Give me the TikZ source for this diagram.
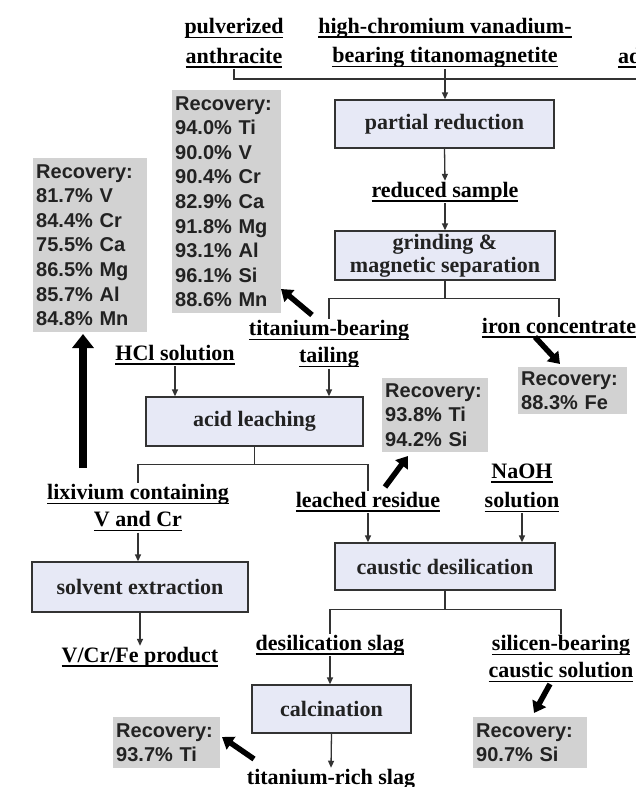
\documentclass[tikz,border=0pt]{standalone}
\usepackage{fontspec}
\setmainfont{Liberation Serif}
\newfontfamily\recfont{Liberation Sans}
\usetikzlibrary{arrows.meta,calc}
\definecolor{procfill}{HTML}{E7E9F6}
\definecolor{recfill}{HTML}{D2D2D2}
\definecolor{ink}{HTML}{222222}
\definecolor{edge}{HTML}{333333}
\newcommand\ulx[1]{\setbox0=\hbox{#1}\rlap{\rule[-4.5pt]{\wd0}{1.5pt}}\box0}
\begin{document}
\begin{tikzpicture}[x=1pt,y=-1pt,
  lbl/.style={font=\fontsize{22}{27}\selectfont\bfseries, align=center, inner sep=1pt, text=black},
  lblw/.style={lbl, font=\fontsize{22}{29.5}\selectfont\bfseries},
  proc/.style={draw=edge, fill=procfill, line width=1.3pt, font=\fontsize{22}{23}\selectfont\bfseries, text=ink, align=center, inner sep=0pt},
  rec/.style={fill=recfill, font=\recfont\fontsize{20}{24.6}\selectfont\bfseries, text=ink, align=left, inner xsep=3pt, inner ysep=0pt, anchor=north west},
  ln/.style={draw=edge, line width=1.3pt},
  arr/.style={ln, -{Triangle[length=7pt,width=6pt]}},
  fat/.style={draw=black, line width=5.5pt, -{Triangle[length=11pt,width=15pt]}},
  fatv/.style={draw=black, line width=8pt, -{Triangle[length=14pt,width=21pt]}}
]
\useasboundingbox (0,0) rectangle (636,787);
\clip (0,0) rectangle (636,787);
\fill[white] (0,0) rectangle (636,787);

% labels
\node[lblw] (anth) at (234,43) {\ulx{pulverized}\\\ulx{anthracite}};
\node[lblw] (mag) at (445,43) {\ulx{high-chromium vanadium-}\\\ulx{bearing titanomagnetite}};
\node[lbl, anchor=base west] (add) at (617,63) {\ulx{additive}};
\node[lbl] (red) at (445,192) {\ulx{reduced sample}};
\node[lbl] (ti) at (329,344) {\ulx{titanium-bearing}\\\ulx{tailing}};
\node[lbl] (iron) at (559,328) {\ulx{iron concentrate}};
\node[lbl] (hcl) at (175,355) {\ulx{HCl solution}};
\node[lbl] (lix) at (138,508) {\ulx{lixivium containing}\\\ulx{V and Cr}};
\node[lbl] (res) at (368,502) {\ulx{leached residue}};
\node[lblw] (naoh) at (522,488) {\ulx{NaOH}\\\ulx{solution}};
\node[lbl] (vcr) at (140,657) {\ulx{V/Cr/Fe product}};
\node[lbl] (slag) at (330,645) {\ulx{desilication slag}};
\node[lbl] (sil) at (561,659) {\ulx{silicen-bearing}\\\ulx{caustic solution}};
\node[lbl] (tir) at (331,779) {\ulx{titanium-rich slag}};

% process boxes
\node[proc, minimum width=219pt, minimum height=48pt] (PR) at (444.5,124) {partial reduction};
\node[proc, minimum width=220pt, minimum height=49pt] (GR) at (445,255.5) {\raisebox{-2pt}{grinding \&}\\\raisebox{-2pt}{magnetic separation}};
\node[proc, minimum width=217pt, minimum height=49pt] (AL) at (254.5,421.5) {acid leaching};
\node[proc, minimum width=216pt, minimum height=50pt] (SE) at (140,587) {solvent extraction};
\node[proc, minimum width=220pt, minimum height=47pt] (CD) at (445,566.5) {caustic desilication};
\node[proc, minimum width=159pt, minimum height=48pt] (CA) at (331.5,709) {calcination};

% recovery boxes
\node[rec, text width=108pt, minimum height=174pt] (LR) at (33,158) {Recovery:\\81.7\% V\\84.4\% Cr\\75.5\% Ca\\86.5\% Mg\\85.7\% Al\\84.8\% Mn};
\node[rec, text width=103pt, minimum height=223pt] (TR) at (172,90) {Recovery:\\94.0\% Ti\\90.0\% V\\90.4\% Cr\\82.9\% Ca\\91.8\% Mg\\93.1\% Al\\96.1\% Si\\88.6\% Mn};
\node[rec, text width=103pt, minimum height=47pt] (FR) at (518,367) {Recovery:\\88.3\% Fe};
\node[rec, text width=100pt, minimum height=74pt] (TSR) at (382,378) {Recovery:\\93.8\% Ti\\94.2\% Si};
\node[rec, text width=101pt, minimum height=51pt] (TiR) at (113,717) {Recovery:\\93.7\% Ti};
\node[rec, text width=108pt, minimum height=51pt] (SiR) at (473,717) {Recovery:\\90.7\% Si};

% connectors
\coordinate (jt) at (445,79);
\draw[ln] (anth.south) |- (jt);
\draw[ln] (add.south) |- (jt);
\draw[arr] (mag.south) -- (mag.south |- PR.north);
\draw[arr] (PR.south) -- (red.north);
\draw[arr] (red.south) -- (GR.north);
\coordinate (j1) at ($(GR.south)+(0,18)$);
\draw[ln] (GR.south) -- (j1) -| (ti.north);
\draw[ln] (j1) -| (iron.north);
\draw[arr] (ti.south) -- (ti.south |- AL.north);
\draw[arr] (hcl.south) -- (hcl.south |- AL.north);
\coordinate (j2) at ($(AL.south)+(0,18)$);
\draw[ln] (AL.south) -- (j2) -| (lix.north);
\draw[ln] (j2) -| (res.north);
\draw[arr] (lix.south) -- (lix.south |- SE.north);
\draw[arr] (SE.south) -- (vcr.north);
\draw[arr] (res.south) -- (res.south |- CD.north);
\draw[arr] (naoh.south) -- (naoh.south |- CD.north);
\coordinate (j3) at ($(CD.south)+(0,19)$);
\draw[ln] (CD.south) -- (j3) -| (slag.north);
\draw[ln] (j3) -| (sil.north);
\draw[arr] (slag.south) -- (slag.south |- CA.north);
\draw[arr] (CA.south) -- (tir.north);

% recovery pointers
\coordinate (a1t) at (312,315); \coordinate (a1h) at (281,289);
\coordinate (a2t) at (535,337); \coordinate (a2h) at (560,364);
\coordinate (a3t) at (385,487); \coordinate (a3h) at (408,456);
\coordinate (a4t) at (83,468);  \coordinate (a4h) at (83,334);
\coordinate (a5t) at (550,684); \coordinate (a5h) at (534,713);
\coordinate (a6t) at (254,759); \coordinate (a6h) at (222,737);
\draw[fat] (a1t) -- (a1h);
\draw[fat] (a2t) -- (a2h);
\draw[fat] (a3t) -- (a3h);
\draw[fatv] (a4t) -- (a4h);
\draw[fat] (a5t) -- (a5h);
\draw[fat] (a6t) -- (a6h);
\end{tikzpicture}
\end{document}
